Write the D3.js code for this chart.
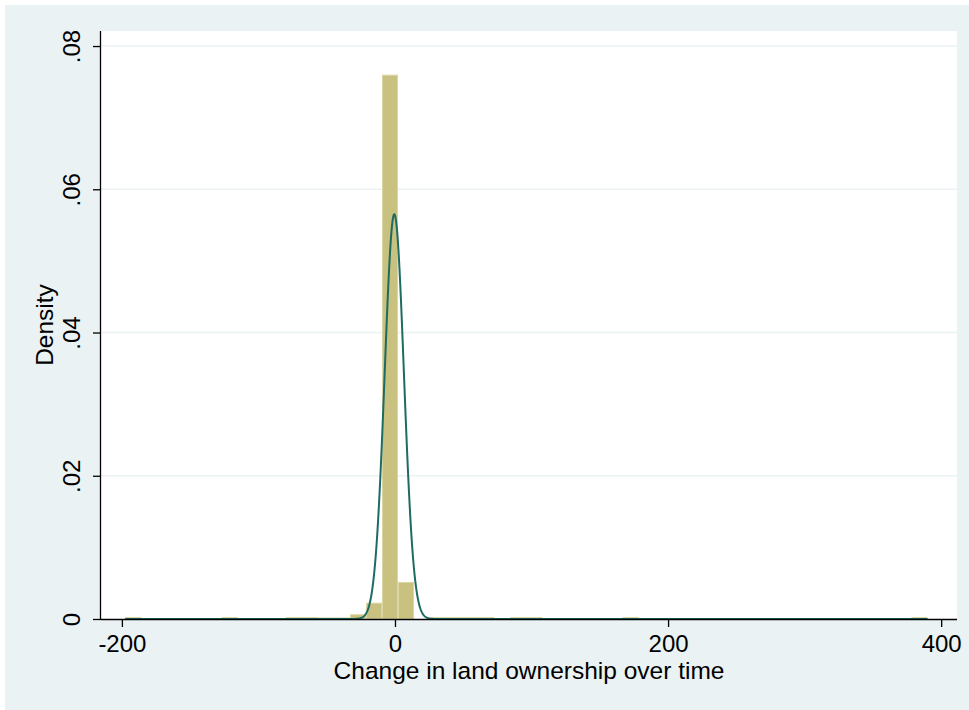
<!DOCTYPE html>
<html>
<head>
<meta charset="utf-8">
<script src="https://cdn.jsdelivr.net/npm/d3@7"></script>
<style>
  html, body { margin: 0; padding: 0; background: #ffffff; }
  svg { display: block; }
  text { font-family: "Liberation Sans", Arial, sans-serif; fill: #000; }
</style>
</head>
<body>
<svg id="chart" width="969" height="710"></svg>
<script>
// ---- data ----
const binWidth = 11.75;
const binLower = [-197.5, -127.0, -80.0, -68.25, -56.5, -44.75, -33.0, -21.25, -9.5, 2.25, 25.75, 37.5, 49.25, 61.0, 84.5, 96.25, 166.75, 378.25];
const binDensity = [0.00028, 0.00028, 0.00028, 0.00028, 0.00022, 0.00022, 0.00066, 0.00228, 0.0760, 0.00517, 0.00028, 0.00028, 0.00028, 0.00028, 0.00028, 0.00028, 0.00028, 0.00028];
const normalMean = -0.5;
const normalSd = 7.06;
const dataMin = -197.5;
const dataMax = 390.0;
const xTicks = [-200, 0, 200, 400];
const xTickLabels = ["-200", "0", "200", "400"];
const yTicks = [0, 0.02, 0.04, 0.06, 0.08];
const yTickLabels = ["0", ".02", ".04", ".06", ".08"];
const xTitle = "Change in land ownership over time";
const yTitle = "Density";

// ---- layout ----
const svg = d3.select("#chart");
const plot = { left: 101, right: 957, top: 31, bottom: 619 };
const tickFont = "24px";
const titleFont = "24.5px";

svg.append("rect").attr("x", 5).attr("y", 5).attr("width", 964).attr("height", 705).attr("fill", "#eaf2f3");
svg.append("rect").attr("x", plot.left).attr("y", plot.top)
  .attr("width", plot.right - plot.left).attr("height", plot.bottom - plot.top).attr("fill", "#ffffff");

const x = d3.scaleLinear().domain([-215.3, 411.6]).range([plot.left, plot.right]);
const y = d3.scaleLinear().domain([0, 0.0821]).range([plot.bottom, plot.top]);

// gridlines
svg.append("g").selectAll("line").data(yTicks.filter(d => d > 0)).join("line")
  .attr("x1", plot.left).attr("x2", plot.right)
  .attr("y1", d => y(d)).attr("y2", d => y(d))
  .attr("stroke", "#eaf2f3").attr("stroke-width", 1.5);

// bars
const bars = binLower.map((lo, i) => ({ lo, hi: lo + binWidth, d: binDensity[i] }));
svg.append("g").selectAll("rect").data(bars).join("rect")
  .attr("x", b => x(b.lo) + 0.5)
  .attr("width", b => x(b.hi) - x(b.lo) - 1)
  .attr("y", b => y(b.d) + 0.5)
  .attr("height", b => Math.max(0.5, y(0) - y(b.d) - 0.5))
  .attr("fill", "#c9c17f")
  .attr("stroke", "#dbd5a4").attr("stroke-width", 1);

// normal curve
const pdf = v => Math.exp(-0.5 * Math.pow((v - normalMean) / normalSd, 2)) / (normalSd * Math.sqrt(2 * Math.PI));
const curveXs = d3.range(dataMin, dataMax + 0.001, 0.25);
svg.append("path")
  .datum(curveXs)
  .attr("d", d3.line().x(v => x(v)).y(v => y(pdf(v))))
  .attr("fill", "none").attr("stroke", "#1e6b61").attr("stroke-width", 2);

// axes
const xAxis = d3.axisBottom(x).tickValues(xTicks).tickFormat((d, i) => xTickLabels[i]).tickSize(8).tickSizeOuter(0);
const gx = svg.append("g").attr("transform", `translate(0,${plot.bottom})`).call(xAxis);
gx.select(".domain").attr("d", `M${plot.left},0.5H${plot.right}`).attr("stroke", "#000").attr("stroke-width", 1.3);
gx.selectAll(".tick line").attr("stroke", "#000").attr("stroke-width", 1.3);
gx.selectAll(".tick text").attr("y", 33).attr("dy", 0).style("font-size", tickFont).style("font-family", "'Liberation Sans', Arial, sans-serif").attr("fill", "#000");

const yAxis = d3.axisLeft(y).tickValues(yTicks).tickFormat((d, i) => yTickLabels[i]).tickSize(8).tickSizeOuter(0);
const gy = svg.append("g").attr("transform", `translate(${plot.left},0)`).call(yAxis);
gy.select(".domain").attr("d", `M-0.5,${plot.bottom}V${plot.top}`).attr("stroke", "#000").attr("stroke-width", 1.3);
gy.selectAll(".tick line").attr("stroke", "#000").attr("stroke-width", 1.3);
gy.selectAll(".tick text")
  .attr("x", 0).attr("y", 0).attr("dy", 0)
  .attr("transform", "translate(-21,0) rotate(-90)")
  .attr("text-anchor", "middle")
  .style("font-size", tickFont).style("font-family", "'Liberation Sans', Arial, sans-serif").attr("fill", "#000");

// titles
svg.append("text").attr("x", (plot.left + plot.right) / 2).attr("y", 679)
  .attr("text-anchor", "middle").style("font-size", titleFont).text(xTitle);
svg.append("text")
  .attr("transform", `translate(53,${(plot.top + plot.bottom) / 2}) rotate(-90)`)
  .attr("text-anchor", "middle").style("font-size", titleFont).text(yTitle);
</script>
</body>
</html>
